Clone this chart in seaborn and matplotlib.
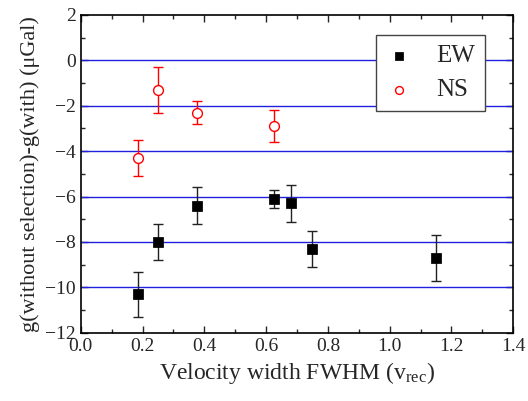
import matplotlib
import pandas as pd
import matplotlib.pyplot as plt
import seaborn as sns
from matplotlib.ticker import MultipleLocator

matplotlib.use("Agg")

ew_x = [0.185, 0.25, 0.375, 0.625, 0.68, 0.75, 1.15]
ew_y = [-10.3, -8.0, -6.4, -6.1, -6.3, -8.3, -8.7]
ew_err = [1.0, 0.8, 0.8, 0.4, 0.8, 0.8, 1.0]

ns_x = [0.185, 0.25, 0.375, 0.625]
ns_y = [-4.3, -1.3, -2.3, -2.9]
ns_err = [0.8, 1.0, 0.5, 0.7]

ref_lines = [0, -2, -4, -6, -8, -10]


def plot_gravity():
    sns.set_style("ticks")
    plt.rcParams["font.family"] = ["Liberation Serif", "DejaVu Serif"]
    plt.rcParams["mathtext.fontset"] = "stix"

    fig = plt.figure(figsize=(5.28, 4.01), dpi=100)
    ax = fig.add_axes([0.153, 0.170, 0.819, 0.793])

    for y in ref_lines:
        ax.axhline(y, color="#2020e0", lw=1.0, zorder=1)

    ax.errorbar(ew_x, ew_y, yerr=ew_err, fmt="none", ecolor="#222222",
                elinewidth=1.0, capsize=3.5, capthick=1.0, zorder=2)
    ax.errorbar(ns_x, ns_y, yerr=ns_err, fmt="none", ecolor="red",
                elinewidth=1.0, capsize=3.5, capthick=1.0, zorder=2)

    ew = pd.DataFrame({"x": ew_x, "y": ew_y})
    ns = pd.DataFrame({"x": ns_x, "y": ns_y})
    sns.scatterplot(data=ew, x="x", y="y", marker="s", s=45, color="black",
                    edgecolor="black", label="EW", ax=ax, zorder=3)
    sns.scatterplot(data=ns, x="x", y="y", marker="o", s=50, facecolor="white",
                    edgecolor="red", linewidth=1.0, label="NS", ax=ax, zorder=3)

    ax.set_xlim(0, 1.4)
    ax.set_ylim(-12, 2)
    ax.xaxis.set_major_locator(MultipleLocator(0.2))
    ax.xaxis.set_minor_locator(MultipleLocator(0.1))
    ax.yaxis.set_major_locator(MultipleLocator(2))
    ax.yaxis.set_minor_locator(MultipleLocator(1))
    ax.tick_params(which="both", direction="in", top=True, right=True,
                   labelsize=14, width=1.0)
    ax.tick_params(which="major", length=5)
    ax.tick_params(which="minor", length=3)
    for s in ax.spines.values():
        s.set_linewidth(1.2)
        s.set_color("black")

    ax.set_xlabel("Velocity width FWHM (v$_{\\mathregular{rec}}$)", fontsize=17)
    ax.set_ylabel("g(without selection)-g(with) (\u03bcGal)", fontsize=16)

    leg = ax.legend(loc="upper right", bbox_to_anchor=(0.935, 0.937),
                    borderaxespad=0, fontsize=18, frameon=True, fancybox=False,
                    framealpha=1, handletextpad=1.0, borderpad=0.4,
                    labelspacing=0.45, markerscale=0.8, handlelength=1.0)
    leg.get_frame().set_edgecolor("#444444")
    leg.get_frame().set_linewidth(1.0)

    fig.savefig("out.png", dpi=100)


if __name__ == "__main__":
    plot_gravity()
